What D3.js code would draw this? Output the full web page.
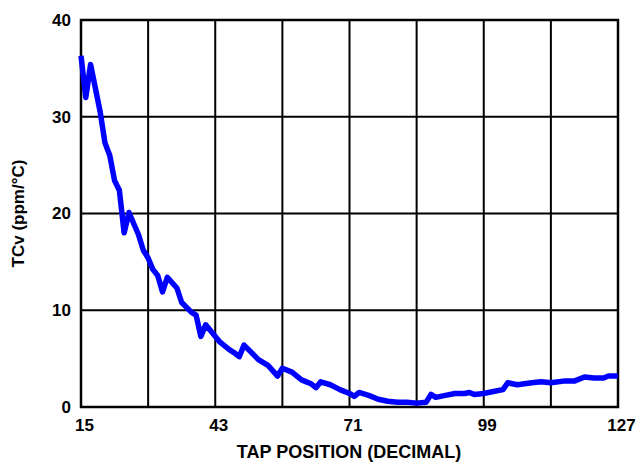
<!DOCTYPE html>
<html>
<head>
<meta charset="utf-8">
<script src="https://cdn.jsdelivr.net/npm/d3@7"></script>
<style>
  html, body { margin: 0; padding: 0; background: #fff; }
  svg { display: block; }
  text { font-family: "Liberation Sans", Arial, sans-serif; font-weight: bold; fill: #000; }
</style>
</head>
<body>
<svg id="chart" width="639" height="462"></svg>
<script>
const taps = [15,16,17,19,20,21,22,23,24,25,27,28,29,30,31,32,33,35,36,38,39,40,41,42,44,46,47,48,49,50,52,54,56,57,59,61,62,63,64,65,67,69,71,72,73,75,77,79,81,83,85,87,88,89,91,93,95,96,97,99,101,103,104,106,109,111,113,116,118,120,122,124,125,127];
const tcv = [36.3,32.0,35.4,30.5,27.3,26.0,23.4,22.4,18.0,20.1,17.8,16.2,15.4,14.2,13.6,11.9,13.4,12.3,10.8,9.8,9.5,7.3,8.5,7.9,6.7,5.9,5.6,5.2,6.4,5.9,4.9,4.3,3.2,4.0,3.6,2.8,2.6,2.4,2.0,2.6,2.3,1.8,1.4,1.1,1.5,1.2,0.8,0.6,0.5,0.5,0.4,0.5,1.3,1.0,1.2,1.4,1.4,1.5,1.3,1.4,1.6,1.8,2.5,2.3,2.5,2.6,2.5,2.7,2.7,3.1,3.0,3.0,3.2,3.2];
const xTickLabels = [15,43,71,99,127];
const xGrid = [15,29,43,57,71,85,99,113,127];
const yTicks = [0,10,20,30,40];
const xTitle = "TAP POSITION (DECIMAL)";
const yTitle = "TCv (ppm/°C)";

const svg = d3.select("#chart");
const L = 81, R = 618, T = 20, B = 407;
const x = d3.scaleLinear().domain([15,127]).range([L,R]);
const y = d3.scaleLinear().domain([0,40]).range([B,T]);

// grid
svg.append("g").selectAll("line").data(xGrid).join("line")
  .attr("x1", d=>x(d)).attr("x2", d=>x(d)).attr("y1", T).attr("y2", B)
  .attr("stroke", "#000").attr("stroke-width", 2);
svg.append("g").selectAll("line").data(yTicks).join("line")
  .attr("x1", L).attr("x2", R).attr("y1", d=>y(d)).attr("y2", d=>y(d))
  .attr("stroke", "#000").attr("stroke-width", 2);
svg.append("rect").attr("x", L).attr("y", T).attr("width", R-L).attr("height", B-T)
  .attr("fill", "none").attr("stroke", "#000").attr("stroke-width", 2.5);

// axes labels
const xAxis = d3.axisBottom(x).tickValues(xTickLabels).tickSize(0).tickPadding(12).tickFormat(d3.format("d"));
const gx = svg.append("g").attr("transform", `translate(0,${B})`).call(xAxis);
gx.select(".domain").remove();
gx.selectAll("text").style("font-size", "17px").style("font-family", "Liberation Sans, Arial, sans-serif").style("font-weight", "bold").attr("dx", 3);

const yAxis = d3.axisLeft(y).tickValues(yTicks).tickSize(0).tickPadding(10).tickFormat(d3.format("d"));
const gy = svg.append("g").attr("transform", `translate(${L},0)`).call(yAxis);
gy.select(".domain").remove();
gy.selectAll("text").style("font-size", "17px").style("font-family", "Liberation Sans, Arial, sans-serif").style("font-weight", "bold");

// line
const data = taps.map((t,i)=>({t, v: tcv[i]}));
svg.append("path").datum(data)
  .attr("fill", "none").attr("stroke", "#0000ff").attr("stroke-width", 5.5)
  .attr("stroke-linejoin", "round").attr("stroke-linecap", "butt")
  .attr("d", d3.line().x(d=>x(d.t)).y(d=>y(d.v)));

// titles
svg.append("text").attr("x", 349).attr("y", 458).attr("text-anchor", "middle")
  .style("font-size", "18px").text(xTitle);
svg.append("text").attr("transform", `translate(24,${(T+B)/2}) rotate(-90)`).attr("text-anchor", "middle")
  .style("font-size", "17px").text(yTitle);
</script>
</body>
</html>
